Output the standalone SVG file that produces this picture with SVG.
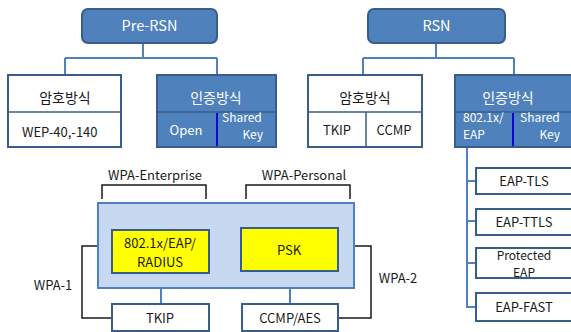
<svg xmlns="http://www.w3.org/2000/svg" width="571" height="332" viewBox="0 0 571 332">
<style>
text{font-family:"Noto Sans CJK KR","Malgun Gothic","Liberation Sans",sans-serif;font-size:13px;fill:#1a1a1a}
.w{fill:#ffffff}
.c{text-anchor:middle}
.e{text-anchor:end}
.t{font-size:14.5px}
.k{font-size:14px}
.s{font-size:12px}
.top{fill:#4f81bd;stroke:#385d8a;stroke-width:2}
.blue{fill:#4f81bd;stroke:#385d8a;stroke-width:2}
.wbox{fill:#ffffff;stroke:#385d8a;stroke-width:2}
.div{stroke:#385d8a;stroke-width:1.5;fill:none}
.vdiv{stroke:#0a0ac8;stroke-width:2;fill:none}
.con{stroke:#4f81bd;stroke-width:2;fill:none}
.blk{stroke:#1a1a1a;stroke-width:1.5;fill:none}
.yel{fill:#ffff00;stroke:#385d8a;stroke-width:2}
.lb{fill:#c6d9f1;stroke:#4f81bd;stroke-width:2}
</style>
<g id="connectors">
<path class="con" d="M143,43V58M65,58H217M65,58V75M217,58V75"/>
<path class="con" d="M436,43V58M363,58H514M363,58V75M514,58V75"/>
<path class="con" d="M467,147V307H476M467,181H476M467,221H476M467,263H476"/>
<path class="con" d="M161,288V304M290,288V304"/>
<path class="blk" d="M102,199V185H206V199"/>
<path class="blk" d="M246,199V185H350V199"/>
<path class="blk" d="M98,246H82V318H112"/>
<path class="blk" d="M354,246H371V318H338"/>
</g>
<g id="pre-rsn">
<rect class="top" x="82" y="9" width="135" height="34" rx="6"/>
<text class="w c t" x="149.5" y="31">Pre-RSN</text>
</g>
<g id="rsn">
<rect class="top" x="368" y="9" width="137" height="34" rx="6"/>
<text class="w c t" x="436.5" y="31">RSN</text>
</g>
<g id="pre-cipher">
<rect class="wbox" x="8" y="75" width="113" height="72"/>
<path class="div" d="M8,112H121"/>
<text class="c k" x="65" y="103">암호방식</text>
<text x="22" y="137">WEP-40,-140</text>
</g>
<g id="pre-auth">
<rect class="blue" x="157" y="75" width="119" height="72"/>
<path class="div" d="M157,112H276"/>
<path class="vdiv" d="M217,113V146"/>
<text class="w c k" x="216" y="103">인증방식</text>
<text class="w c" x="186" y="135">Open</text>
<text class="w s" x="222" y="122">Shared</text>
<text class="w e s" x="263" y="139">Key</text>
</g>
<g id="rsn-cipher">
<rect class="wbox" x="308" y="75" width="114" height="72"/>
<path class="div" d="M308,112H422M366,112V147"/>
<text class="c k" x="365" y="103">암호방식</text>
<text class="c" x="337" y="135">TKIP</text>
<text class="c" x="394" y="135">CCMP</text>
</g>
<g id="rsn-auth">
<rect class="blue" x="455" y="75" width="122" height="72"/>
<path class="div" d="M455,112H577"/>
<path class="vdiv" d="M513,113V146"/>
<text class="w c k" x="508" y="103">인증방식</text>
<text class="w s" x="463" y="122">802.1x/</text>
<text class="w s" x="463" y="139">EAP</text>
<text class="w s" x="520" y="122">Shared</text>
<text class="w e s" x="560" y="139">Key</text>
</g>
<g id="eap-tls">
<rect class="wbox" x="476" y="168" width="100" height="26"/>
<text class="c" x="524" y="186">EAP-TLS</text>
</g>
<g id="eap-ttls">
<rect class="wbox" x="476" y="209" width="100" height="26"/>
<text class="c" x="524" y="227">EAP-TTLS</text>
</g>
<g id="peap">
<rect class="wbox" x="476" y="248" width="100" height="30"/>
<text class="c s" x="524" y="260">Protected</text>
<text class="c s" x="524" y="277">EAP</text>
</g>
<g id="eap-fast">
<rect class="wbox" x="476" y="293" width="100" height="28"/>
<text class="c" x="524" y="312">EAP-FAST</text>
</g>
<g id="wpa-box">
<rect class="lb" x="98" y="203" width="256" height="85"/>
</g>
<g id="enterprise">
<rect class="yel" x="112" y="230" width="97" height="43"/>
<text class="c" x="160" y="248">802.1x/EAP/</text>
<text class="c" x="160" y="267">RADIUS</text>
</g>
<g id="psk">
<rect class="yel" x="241" y="228" width="97" height="43"/>
<text class="c" x="289" y="255">PSK</text>
</g>
<g id="tkip">
<rect class="wbox" x="112" y="304" width="97" height="27"/>
<text class="c" x="160" y="323">TKIP</text>
</g>
<g id="ccmp-aes">
<rect class="wbox" x="242" y="304" width="96" height="27"/>
<text class="c" x="290" y="323">CCMP/AES</text>
</g>
<g id="labels">
<text class="c" x="155" y="180">WPA-Enterprise</text>
<text class="c" x="304" y="180">WPA-Personal</text>
<text class="c" x="53" y="290">WPA-1</text>
<text class="c" x="398" y="283">WPA-2</text>
</g>
</svg>
